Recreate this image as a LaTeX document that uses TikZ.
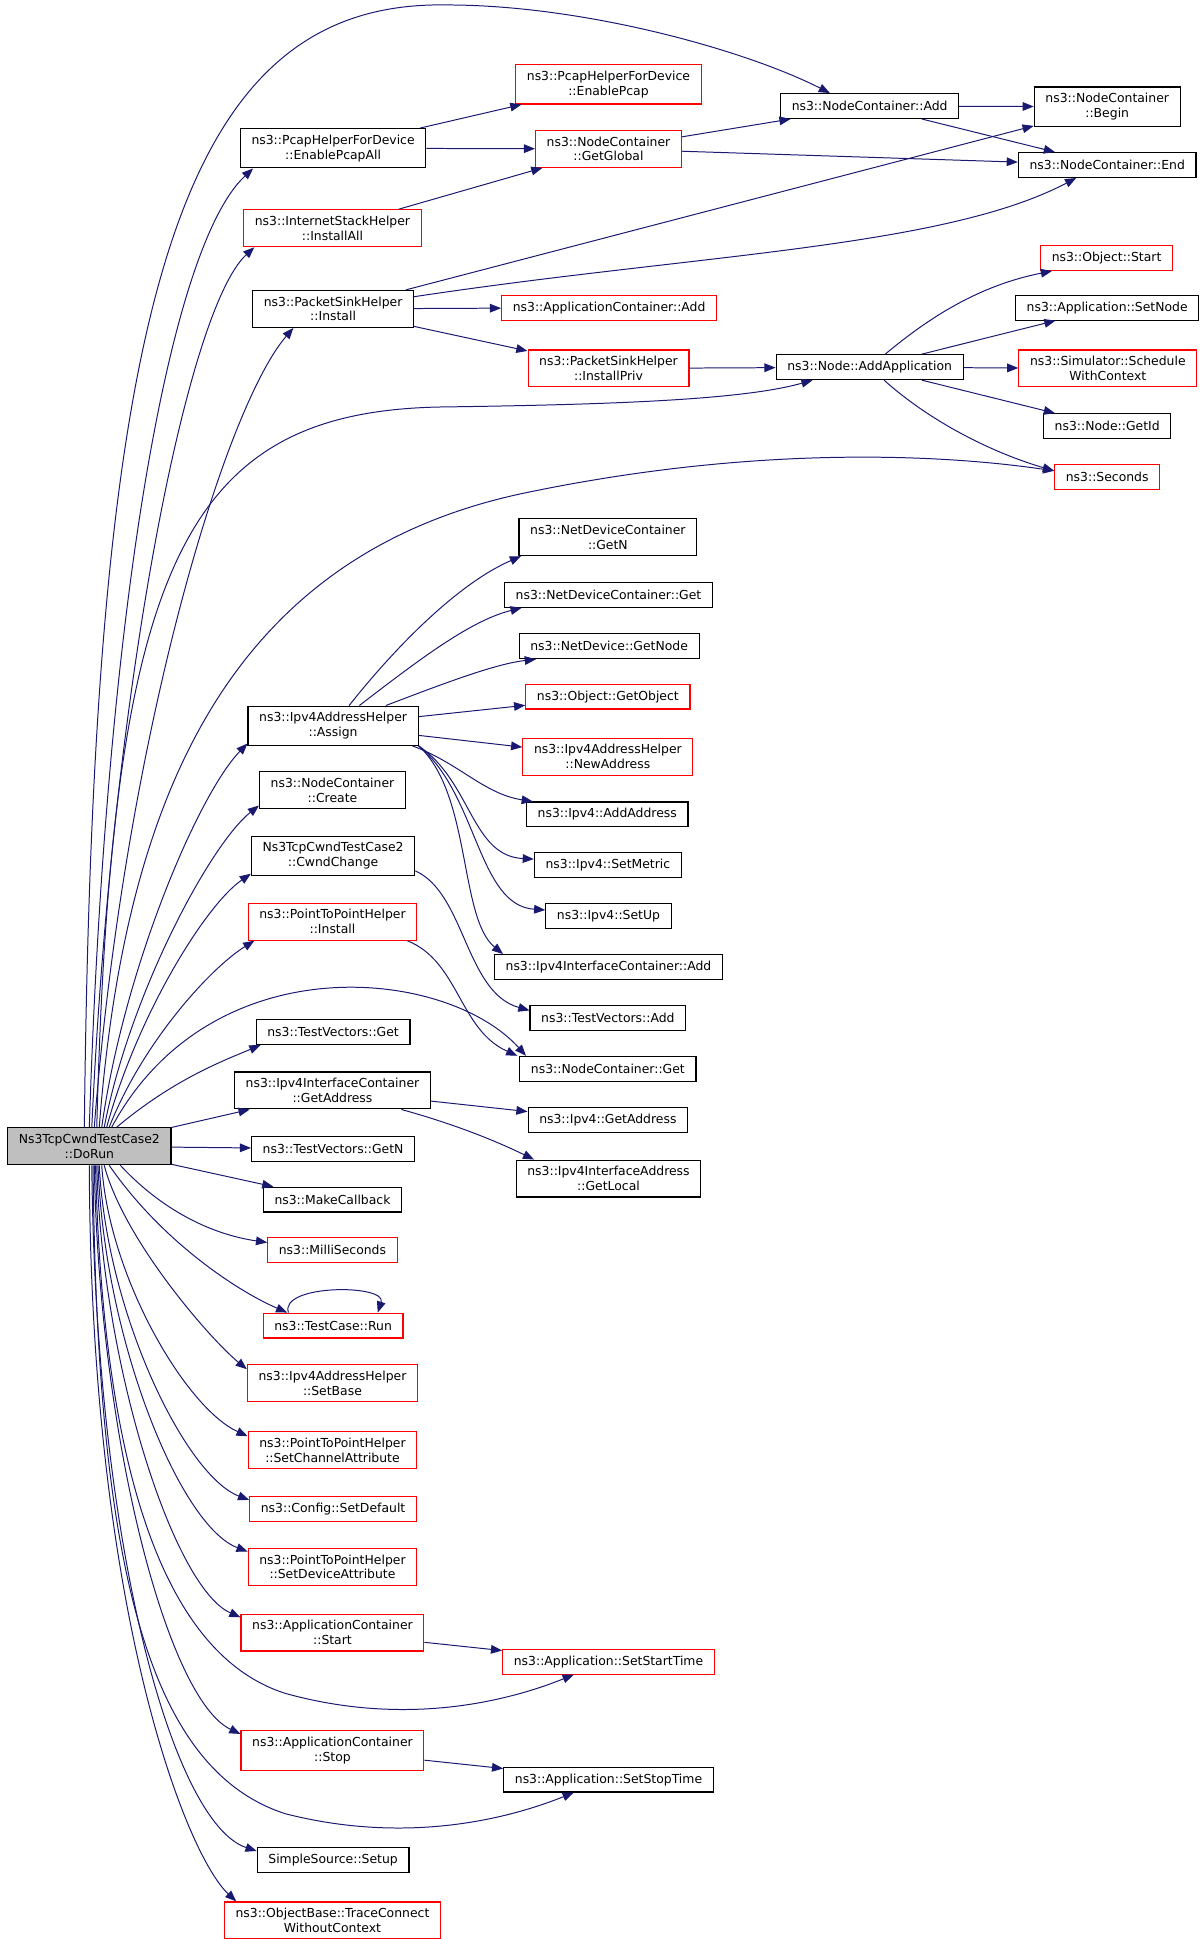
\documentclass[tikz,border=0pt]{standalone}
\usepackage{fontspec}
\setmainfont{DejaVu Sans}
\usetikzlibrary{arrows.meta}
\definecolor{edgeblue}{HTML}{191970}
\definecolor{fnred}{HTML}{FF0000}
\definecolor{fngray}{HTML}{BFBFBF}

\begin{document}
\begin{tikzpicture}[x=1pt, y=-1pt, every node/.style={rectangle, draw=black, line width=0.9pt, fill=white, align=center, font=\fontsize{10}{12}\selectfont, inner xsep=9pt, inner ysep=5pt, minimum height=20pt}, ext/.style={draw=fnred}, every edge/.style={draw=edgeblue, line width=0.8pt, -{Triangle[length=9pt,width=7pt]}}, call/.style={draw=edgeblue, line width=0.8pt, -{Triangle[length=9pt,width=7pt]}}]
			\useasboundingbox (0,0) rectangle (970,1563);
			
			\node[fill=fngray] (dorun) at (72,924){Ns3TcpCwndTestCase2\\::DoRun};
			
			\node (pcapall) at (268.5,119.5){ns3::PcapHelperForDevice\\::EnablePcapAll};
			\node[ext] (enablepcap) at (490.5,68){ns3::PcapHelperForDevice\\::EnablePcap};
			\node[ext] (getglobal) at (490.5,120){ns3::NodeContainer\\::GetGlobal};
			\node (ncadd) at (701,85.5){ns3::NodeContainer::Add};
			\node (ncbegin) at (892.5,86){ns3::NodeContainer\\::Begin};
			\node (ncend) at (892.5,133){ns3::NodeContainer::End};
			\node[ext] (installall) at (268,184){ns3::InternetStackHelper\\::InstallAll};
			\node (psinstall) at (268.5,249){ns3::PacketSinkHelper\\::Install};
			\node[ext] (appcadd) at (491,248){ns3::ApplicationContainer::Add};
			\node[ext] (installpriv) at (490.5,297){ns3::PacketSinkHelper\\::InstallPriv};
			\node (addapp) at (701,296){ns3::Node::AddApplication};
			\node[ext] (objstart) at (892,208){ns3::Object::Start};
			\node (setnode) at (892.5,248){ns3::Application::SetNode};
			\node[ext] (schedule) at (893,297){ns3::Simulator::Schedule\\WithContext};
			\node (getid) at (892.5,343.5){ns3::Node::GetId};
			\node[ext] (seconds) at (892.5,384.5){ns3::Seconds};
			
			\node (ndcgetn) at (490,433){ns3::NetDeviceContainer\\::GetN};
			\node (ndcget) at (490.5,479.5){ns3::NetDeviceContainer::Get};
			\node (getnode) at (491,521){ns3::NetDevice::GetNode};
			\node[ext] (getobject) at (490,561.5){ns3::Object::GetObject};
			\node[ext] (newaddress) at (490,610){ns3::Ipv4AddressHelper\\::NewAddress};
			\node (addaddress) at (489.5,656.5){ns3::Ipv4::AddAddress};
			\node (setmetric) at (490,697.5){ns3::Ipv4::SetMetric};
			\node (setup) at (490.5,738.5){ns3::Ipv4::SetUp};
			\node (ifcadd) at (490.5,779.5){ns3::Ipv4InterfaceContainer::Add};
			\node (tvadd) at (490,820.5){ns3::TestVectors::Add};
			\node (ncget) at (490,861.5){ns3::NodeContainer::Get};
			\node (ipv4getaddr) at (490,903){ns3::Ipv4::GetAddress};
			\node (getlocal) at (490.5,950){ns3::Ipv4InterfaceAddress\\::GetLocal};
			
			\node (assign) at (268.5,585){ns3::Ipv4AddressHelper\\::Assign};
			\node (nccreate) at (268,637){ns3::NodeContainer\\::Create};
			\node (cwndchange) at (268.5,690){Ns3TcpCwndTestCase2\\::CwndChange};
			\node[ext] (p2pinstall) at (268,743){ns3::PointToPointHelper\\::Install};
			\node (tvget) at (268.5,832){ns3::TestVectors::Get};
			\node (ifcgetaddr) at (268,879){ns3::Ipv4InterfaceContainer\\::GetAddress};
			\node (tvgetn) at (268.5,926){ns3::TestVectors::GetN};
			\node (makecallback) at (268,967){ns3::MakeCallback};
			\node[ext] (milliseconds) at (268,1007.5){ns3::MilliSeconds};
			\node[ext] (testcaserun) at (268.5,1068.5){ns3::TestCase::Run};
			\node[ext] (setbase) at (268,1115){ns3::Ipv4AddressHelper\\::SetBase};
			\node[ext] (setchannel) at (268,1169){ns3::PointToPointHelper\\::SetChannelAttribute};
			\node[ext] (setdefault) at (268.5,1216.5){ns3::Config::SetDefault};
			\node[ext] (setdevice) at (268,1263){ns3::PointToPointHelper\\::SetDeviceAttribute};
			\node[ext] (appcstart) at (268,1316){ns3::ApplicationContainer\\::Start};
			\node[ext] (setstarttime) at (490.5,1339.5){ns3::Application::SetStartTime};
			\node[ext] (appcstop) at (268,1411){ns3::ApplicationContainer\\::Stop};
			\node (setstoptime) at (490.5,1434.5){ns3::Application::SetStopTime};
			\node (srcsetup) at (268.5,1499.5){SimpleSource::Setup};
			\node[ext] (traceconnect) at (268,1548){ns3::ObjectBase::TraceConnect\\WithoutContext};
			
			\draw[call] ([xshift=-4pt]dorun.north) .. controls (75,250) and (140,0) .. (360,4) .. controls (470,4) and (600,40) .. ([xshift=-32pt]ncadd.north);
			\draw[call] (dorun.north) .. controls (85,500) and (135,200) .. ([xshift=-64.5pt]pcapall.south);
			\draw[call] ([xshift=2pt]dorun.north) .. controls (90,560) and (150,250) .. ([xshift=-63pt]installall.south);
			\draw[call] ([xshift=4pt]dorun.north) .. controls (100,600) and (180,330) .. ([xshift=-32pt]psinstall.south);
			\draw[call] ([xshift=6pt]dorun.north) .. controls (90,450) and (150,330) .. (360,328) .. controls (500,326) and (600,322) .. ([xshift=-46pt]addapp.south);
			\draw[call] ([xshift=8pt]dorun.north) .. controls (100,650) and (180,450) .. (420,398) .. controls (600,360) and (750,365) .. ([yshift=5pt]seconds.west);
			\draw[call] ([xshift=10pt]dorun.north) .. controls (100,780) and (160,640) .. ([yshift=2pt]assign.south west);
			\draw[call] ([xshift=12pt]dorun.north) .. controls (105,800) and (170,680) .. ([yshift=3pt]nccreate.south west);
			\draw[call] ([xshift=14pt]dorun.north) .. controls (110,820) and (165,730) .. ([yshift=2pt]cwndchange.south west);
			\draw[call] ([xshift=16pt]dorun.north) .. controls (115,840) and (170,780) .. ([xshift=-63pt]p2pinstall.south);
			\draw[call] ([xshift=18pt]dorun.north) .. controls (170,760) and (360,780) .. ([xshift=-66pt]ncget.north);
			\draw[call] ([xshift=22pt]dorun.north) .. controls (140,870) and (180,855) .. ([xshift=-58.5pt]tvget.south);
			\path (dorun) edge (ifcgetaddr);
			\path (dorun) edge (tvgetn);
			\path (dorun) edge (makecallback);
			\draw[call] ([xshift=25pt]dorun.south) .. controls (130,975) and (170,995) .. ([yshift=6pt]milliseconds.west);
			\draw[call] ([xshift=16pt]dorun.south) .. controls (130,1000) and (190,1040) .. ([xshift=-37pt]testcaserun.north);
			\draw[call] ([xshift=12pt]dorun.south) .. controls (100,1000) and (170,1080) .. ([yshift=-4pt]setbase.north west);
			\draw[call] ([xshift=10pt]dorun.south) .. controls (88,1030) and (150,1135) .. ([yshift=-4pt]setchannel.north west);
			\draw[call] ([xshift=8pt]dorun.south) .. controls (86,1060) and (150,1190) .. ([yshift=-3pt]setdefault.north west);
			\draw[call] ([xshift=7pt]dorun.south) .. controls (84,1080) and (145,1230) .. ([yshift=-3pt]setdevice.north west);
			\draw[call] ([xshift=6pt]dorun.south) .. controls (82,1100) and (140,1280) .. ([yshift=-3pt]appcstart.north west);
			\draw[call] ([xshift=5pt]dorun.south) .. controls (82,1150) and (120,1330) .. (230,1365) .. controls (320,1390) and (400,1375) .. ([xshift=-28pt]setstarttime.south);
			\draw[call] ([xshift=4pt]dorun.south) .. controls (80,1160) and (135,1370) .. ([yshift=-3pt]appcstop.north west);
			\draw[call] ([xshift=3pt]dorun.south) .. controls (78,1250) and (115,1425) .. (230,1462) .. controls (320,1485) and (400,1470) .. ([xshift=-28pt]setstoptime.south);
			\draw[call] ([xshift=2pt]dorun.south) .. controls (77,1250) and (140,1470) .. ([yshift=-3pt]srcsetup.north west);
			\draw[call] (dorun.south) .. controls (73,1300) and (150,1495) .. ([xshift=10pt]traceconnect.north west);
			
			\path (pcapall) edge (enablepcap);
			\path (pcapall) edge (getglobal);
			\path (installall) edge (getglobal);
			\path (getglobal) edge (ncadd);
			\path (getglobal) edge (ncend);
			\path (ncadd) edge (ncbegin);
			\path (ncadd) edge (ncend);
			\path (psinstall) edge (ncbegin);
			\draw[call] (psinstall) .. controls (560,205) and (760,200) .. ([xshift=-25pt]ncend.south);
			\path (psinstall) edge (appcadd);
			\path (psinstall) edge (installpriv);
			\path (installpriv) edge (addapp);
			\draw[call] (addapp) .. controls (750,255) and (790,230) .. ([xshift=-44pt]objstart.south);
			\path (addapp) edge (setnode);
			\path (addapp) edge (schedule);
			\path (addapp) edge (getid);
			\draw[call] (addapp) .. controls (750,340) and (800,365) .. ([yshift=5pt]seconds.west);
			
			\draw[call] (assign) .. controls (320,520) and (370,470) .. ([xshift=-70pt]ndcgetn.south);
			\draw[call] (assign) .. controls (340,530) and (380,500) .. ([xshift=-70pt]ndcget.south);
			\draw[call] (assign) .. controls (360,550) and (400,535) .. ([xshift=-59pt]getnode.south);
			\path (assign) edge (getobject);
			\path (assign) edge (newaddress);
			\draw[call] ([xshift=-5pt]assign.south east) .. controls (370,615) and (390,640) .. ([xshift=-60pt]addaddress.north);
			\draw[call] (assign.south east) .. controls (380,630) and (380,690) .. ([yshift=5pt]setmetric.west);
			\draw[call] (assign.south east) .. controls (385,640) and (385,730) .. ([yshift=5pt]setup.west);
			\draw[call] (assign.south east) .. controls (380,640) and (370,740) .. ([xshift=-85pt]ifcadd.north);
			\draw[call] ([yshift=-12pt]cwndchange.east) .. controls (375,720) and (375,800) .. ([yshift=6pt]tvadd.west);
			\draw[call] ([xshift=-8pt]p2pinstall.south east) .. controls (370,775) and (370,830) .. ([xshift=-73pt]ncget.north);
			\path (ifcgetaddr) edge (ipv4getaddr);
			\draw[call] (ifcgetaddr) .. controls (355,903) and (390,915) .. ([xshift=-60pt]getlocal.north);
			\draw[call] ([xshift=-36pt]testcaserun.north) .. controls (225,1035) and (312,1035) .. ([xshift=36pt]testcaserun.north);
			\path (appcstart) edge (setstarttime);
			\path (appcstop) edge (setstoptime);
\end{tikzpicture}
\end{document}
